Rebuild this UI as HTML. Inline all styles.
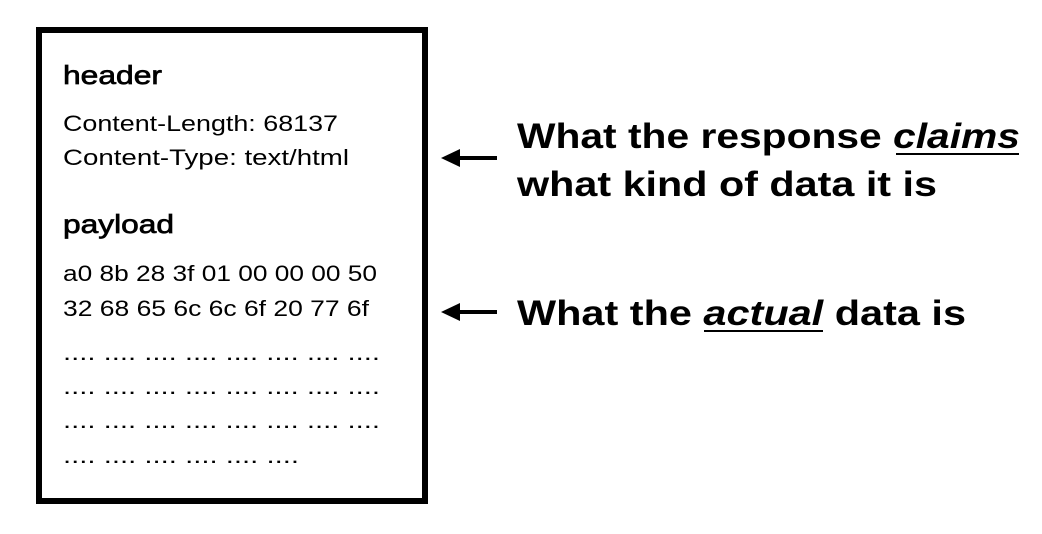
<!DOCTYPE html>
<html><head><meta charset="utf-8"><style>
html,body{margin:0;padding:0;background:#fff;}
svg{display:block;}
text{font-family:"Liberation Sans",sans-serif;fill:#000;}
</style></head><body>
<svg width="1042" height="534" viewBox="0 0 1042 534">
<rect x="39" y="30" width="386" height="471" fill="none" stroke="#000" stroke-width="6"/>
<g>
<text x="63" y="84" font-size="26" stroke="#000" stroke-width="0.7" textLength="99" lengthAdjust="spacingAndGlyphs">header</text>
<text x="63" y="131" font-size="22" textLength="275" lengthAdjust="spacingAndGlyphs">Content-Length: 68137</text>
<text x="63" y="165" font-size="22" textLength="286" lengthAdjust="spacingAndGlyphs">Content-Type: text/html</text>
<text x="63" y="233" font-size="26" stroke="#000" stroke-width="0.7" textLength="111" lengthAdjust="spacingAndGlyphs">payload</text>
<text x="63" y="281" font-size="22" textLength="314" lengthAdjust="spacingAndGlyphs">a0 8b 28 3f 01 00 00 00 50</text>
<text x="63" y="316" font-size="22" textLength="306" lengthAdjust="spacingAndGlyphs">32 68 65 6c 6c 6f 20 77 6f</text>
<text x="63" y="360" font-size="22" textLength="317" lengthAdjust="spacingAndGlyphs">.... .... .... .... .... .... .... ....</text>
<text x="63" y="394" font-size="22" textLength="317" lengthAdjust="spacingAndGlyphs">.... .... .... .... .... .... .... ....</text>
<text x="63" y="428" font-size="22" textLength="317" lengthAdjust="spacingAndGlyphs">.... .... .... .... .... .... .... ....</text>
<text x="63" y="463" font-size="22" textLength="236" lengthAdjust="spacingAndGlyphs">.... .... .... .... .... ....</text>
</g>
<g>
<line x1="455" y1="158" x2="497" y2="158" stroke="#000" stroke-width="4"/>
<polygon points="441,158 460,149 460,167" fill="#000"/>
</g>
<g>
<line x1="455" y1="312" x2="497" y2="312" stroke="#000" stroke-width="4"/>
<polygon points="441,312 460,303 460,321" fill="#000"/>
</g>
<text x="517" y="148" font-size="35" font-weight="bold" textLength="503" lengthAdjust="spacingAndGlyphs">What the response <tspan font-style="italic">claims</tspan></text>
<line x1="896" y1="154" x2="1019" y2="154" stroke="#000" stroke-width="2"/>
<text x="517" y="196" font-size="35" font-weight="bold" textLength="420" lengthAdjust="spacingAndGlyphs">what kind of data it is</text>
<text x="517" y="325" font-size="35" font-weight="bold" textLength="449" lengthAdjust="spacingAndGlyphs">What the <tspan font-style="italic">actual</tspan> data is</text>
<line x1="704" y1="331" x2="823" y2="331" stroke="#000" stroke-width="2"/>
</svg>
</body></html>
